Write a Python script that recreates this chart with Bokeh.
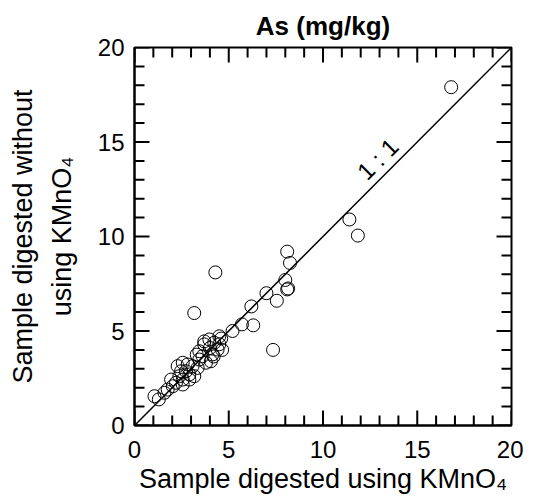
from bokeh.plotting import figure
from bokeh.models import FixedTicker, Range1d, Label
from bokeh.embed import file_html
from bokeh.resources import INLINE

# data: x = with KMnO4, y = without KMnO4 (mg/kg As)
x_with = [16.8, 11.4, 11.85, 4.29, 8.1, 8.25, 8.0, 8.1, 8.15, 7.0, 7.55, 6.2, 6.3, 7.35,
          3.17, 5.2, 5.7, 3.7, 4.6, 4.5, 4.0, 4.65, 3.3, 4.2,
          1.06, 1.29, 1.59, 1.76, 2.03, 2.2, 1.94, 2.38, 2.56, 2.47, 2.73, 2.91, 2.29,
          2.56, 2.82, 3.08, 3.35, 3.17, 2.91, 2.56, 3.44, 3.61, 3.79, 4.05, 4.14, 3.7,
          3.97, 4.23, 4.41, 4.5, 3.44]
y_without = [17.9, 10.9, 10.05, 8.1, 9.2, 8.6, 7.7, 7.2, 7.25, 7.0, 6.6, 6.3, 5.3, 4.0,
             5.95, 5.0, 5.35, 4.45, 4.6, 4.3, 4.1, 4.0, 3.75, 3.65,
             1.55, 1.38, 1.73, 1.9, 2.08, 2.26, 2.43, 2.61, 2.43, 2.87, 2.87, 2.7, 3.14,
             3.32, 3.23, 3.14, 3.05, 2.61, 2.43, 2.17, 3.49, 3.67, 3.32, 3.4, 3.76, 4.29,
             4.55, 4.38, 4.02, 4.72, 3.93]
line_xy = [0, 20]
major_ticks = [0, 5, 10, 15, 20]
minor_ticks = [1, 2, 3, 4, 6, 7, 8, 9, 11, 12, 13, 14, 16, 17, 18, 19]

FONT = "Liberation Sans"
LO, HI = 0, 20
FW, FH = 377, 378

p = figure(frame_width=FW, frame_height=FH, output_backend="svg", toolbar_location=None,
           x_range=Range1d(LO, HI), y_range=Range1d(LO, HI),
           min_border_left=134, min_border_right=12, min_border_top=47, min_border_bottom=5,
           title="As (mg/kg)")
p.title.text_font = FONT
p.title.text_font_size = "26px"
p.title.text_font_style = "bold"
p.title.align = "center"
p.title.text_color = "black"
p.title.offset = 0
p.title.standoff = 13

p.xgrid.visible = False
p.ygrid.visible = False
p.outline_line_color = "black"
p.outline_line_width = 2
p.outline_line_alpha = 1

for ax in (p.xaxis[0], p.yaxis[0]):
    ax.ticker = FixedTicker(ticks=major_ticks)
    ax.major_tick_in = 0
    ax.major_tick_out = 0
    ax.minor_tick_in = 0
    ax.minor_tick_out = 0
    ax.axis_line_width = 2
    ax.axis_line_color = "black"
    ax.major_label_text_font = FONT
    ax.major_label_text_font_size = "24px"
    ax.major_label_text_color = "black"
    ax.axis_label_text_font = FONT
    ax.axis_label_text_font_size = "27px"
    ax.axis_label_text_font_style = "normal"
    ax.axis_label_text_color = "black"

p.xaxis[0].major_label_standoff = 15
p.yaxis[0].major_label_standoff = 10
p.xaxis[0].axis_label = "Sample digested using KMnO\u2084"
p.xaxis[0].axis_label_standoff = 3
p.yaxis[0].axis_label = "Sample digested without\nusing KMnO\u2084"
p.yaxis[0].axis_label_standoff = 18
p.yaxis[0].axis_label_text_line_height = 1.3

# inward tick marks on all four sides, drawn as short segments from the frame edges
ux = (HI - LO) / FW   # data units per pixel
uy = (HI - LO) / FH
for ticks, length in ((major_ticks, 15), (minor_ticks, 10)):
    n = len(ticks)
    p.segment(x0=[LO] * n, x1=[LO + length * ux] * n, y0=ticks, y1=ticks,
              line_color="black", line_width=2)
    p.segment(x0=[HI] * n, x1=[HI - length * ux] * n, y0=ticks, y1=ticks,
              line_color="black", line_width=2)
    p.segment(x0=ticks, x1=ticks, y0=[LO] * n, y1=[LO + length * uy] * n,
              line_color="black", line_width=2)
    p.segment(x0=ticks, x1=ticks, y0=[HI] * n, y1=[HI - length * uy] * n,
              line_color="black", line_width=2)

p.line(x=line_xy, y=line_xy, line_color="black", line_width=1.5)
p.scatter(x=x_with, y=y_without, marker="circle", size=13, fill_color=None,
          line_color="black", line_width=1)

p.add_layout(Label(x=12.9, y=14.1, text="1 : 1", angle=45, angle_units="deg",
                   text_align="center", text_baseline="middle", text_font=FONT,
                   text_font_size="24px", text_color="black"))

open("out.html", "w").write(file_html(p, INLINE))
